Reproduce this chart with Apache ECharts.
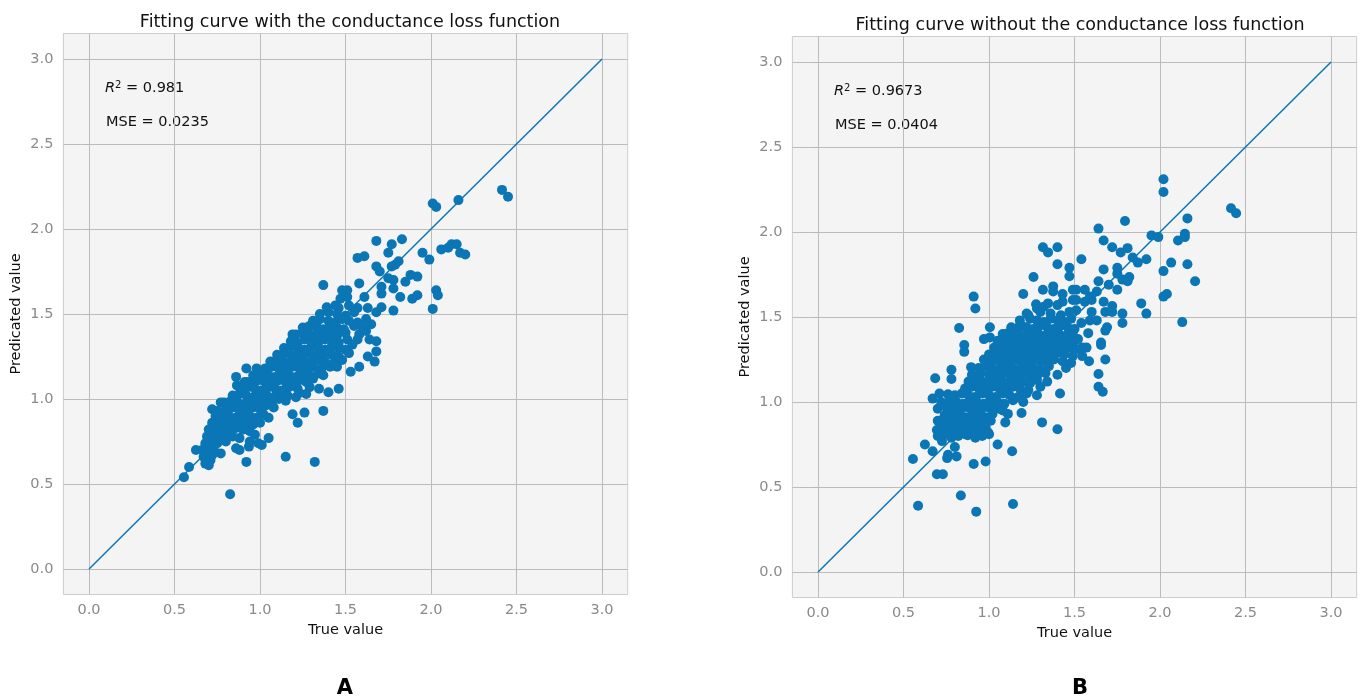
<!DOCTYPE html>
<html>
<head>
<meta charset="utf-8">
<script src="https://cdn.jsdelivr.net/npm/echarts@6/dist/echarts.min.js"></script>
<style>
  html, body { margin: 0; padding: 0; background: #fff; }
  #main { width: 1360px; height: 697px; }
</style>
</head>
<body>
<div id="main"></div>
<script>
// tick values shared by both panels
var tickValues = [0, 0.5, 1, 1.5, 2, 2.5, 3];
var diagonal = [[0, 0], [3, 3]];

// panel A: with the conductance loss  [true value, predicted value]
var pointsA = [
  [0.555,0.54],[0.585,0.60],[0.625,0.70],[0.68,0.68],[0.69,0.62],[0.70,0.61],[0.77,0.68],[0.825,0.44],
  [0.88,0.70],[0.92,0.63],[0.935,0.72],[1.01,0.73],[1.05,0.77],[1.05,0.89],[1.15,0.66],[1.19,0.91],
  [1.22,0.86],[1.26,0.92],[1.32,0.63],[1.37,0.93],[1.23,1.035],[1.345,1.06],[1.40,1.04],[1.46,1.06],
  [1.45,1.19],[1.37,1.14],[0.72,0.94],[0.75,0.93],[0.77,0.98],[0.92,1.18],[0.98,1.18],[0.86,1.13],
  [0.865,1.08],[0.91,1.10],[0.96,1.10],[1.53,1.16],[1.58,1.19],[1.63,1.25],[1.67,1.22],[1.68,1.28],
  [1.51,1.35],[1.57,1.35],[1.64,1.35],[1.68,1.34],[1.19,1.38],[1.33,1.45],[1.37,1.67],[1.48,1.64],
  [1.47,1.59],[1.46,1.535],[1.51,1.60],[1.51,1.64],[1.57,1.535],[1.63,1.535],[1.68,1.51],[1.71,1.54],
  [1.78,1.52],[1.61,1.60],[2.01,1.53],[1.68,1.78],[1.70,1.75],[1.77,1.78],[1.81,1.81],[1.79,1.79],
  [1.75,1.71],[1.78,1.70],[1.88,1.73],[1.92,1.72],[1.85,1.69],[1.58,1.68],[1.71,1.66],[1.78,1.65],
  [1.71,1.62],[1.82,1.60],[1.89,1.59],[1.92,1.61],[2.03,1.64],[2.04,1.61],[1.68,1.93],[1.77,1.91],
  [1.83,1.94],[1.75,1.86],[1.57,1.83],[1.61,1.84],[1.95,1.86],[1.99,1.82],[2.06,1.88],[2.10,1.89],
  [2.12,1.91],[2.15,1.91],[2.17,1.86],[2.20,1.85],[2.01,2.15],[2.03,2.13],[2.16,2.17],[2.415,2.23],
  [2.45,2.19],
  [0.68,0.62],[0.71,0.64],[0.67,0.66],[0.72,0.67],[0.66,0.70],[0.69,0.71],[0.73,0.70],[0.86,0.71],
  [0.68,0.74],[0.71,0.75],[0.75,0.74],[0.80,0.75],[0.94,0.75],[0.99,0.74],
  [0.69,0.78],[0.72,0.79],[0.76,0.78],[0.80,0.79],[0.84,0.78],[0.88,0.77],[0.97,0.79],
  [0.70,0.82],[0.74,0.83],[0.78,0.82],[0.82,0.81],[0.86,0.83],[0.90,0.82],[0.94,0.81],
  [0.72,0.86],[0.76,0.87],[0.80,0.86],[0.84,0.85],[0.88,0.87],[0.92,0.86],[0.96,0.85],[1.00,0.86],
  [0.74,0.90],[0.78,0.91],[0.82,0.90],[0.86,0.89],[0.90,0.91],[0.94,0.90],[0.98,0.89],[1.02,0.91],
  [0.80,0.94],[0.84,0.95],[0.88,0.93],[0.92,0.94],[0.96,0.95],[1.00,0.94],[1.03,0.96],[1.08,0.95],
  [0.79,0.98],[0.83,0.99],[0.87,0.98],[0.91,0.97],[0.95,0.99],[0.99,0.98],[1.03,0.99],[1.07,0.98],[1.11,1.00],[1.15,0.99],
  [0.84,1.02],[0.88,1.03],[0.92,1.02],[0.96,1.01],[1.00,1.03],[1.04,1.02],[1.08,1.01],[1.12,1.03],[1.16,1.02],[1.21,1.01],[1.27,1.03],
  [0.89,1.06],[0.93,1.07],[0.97,1.06],[1.01,1.05],[1.05,1.07],[1.09,1.06],[1.13,1.05],[1.17,1.07],[1.22,1.06],[1.29,1.07],
  [0.93,1.10],[0.99,1.11],[1.03,1.10],[1.07,1.09],[1.11,1.11],[1.15,1.10],[1.19,1.09],[1.23,1.11],[1.27,1.10],[1.31,1.12],
  [0.96,1.14],[1.01,1.15],[1.05,1.14],[1.09,1.13],[1.13,1.15],[1.17,1.14],[1.21,1.13],[1.25,1.15],[1.29,1.14],[1.34,1.15],
  [1.03,1.18],[1.07,1.19],[1.11,1.18],[1.15,1.17],[1.19,1.19],[1.23,1.18],[1.27,1.17],[1.31,1.19],[1.36,1.18],[1.41,1.19],
  [1.06,1.22],[1.10,1.23],[1.14,1.22],[1.18,1.21],[1.22,1.23],[1.26,1.22],[1.30,1.21],[1.34,1.23],[1.38,1.22],[1.43,1.21],[1.48,1.23],
  [1.10,1.26],[1.14,1.27],[1.18,1.26],[1.22,1.25],[1.26,1.27],[1.30,1.26],[1.34,1.25],[1.38,1.27],[1.42,1.26],[1.46,1.25],[1.52,1.27],
  [1.14,1.30],[1.18,1.31],[1.22,1.30],[1.26,1.29],[1.30,1.31],[1.34,1.30],[1.38,1.29],[1.42,1.31],[1.46,1.30],[1.50,1.29],
  [1.18,1.34],[1.22,1.33],[1.26,1.35],[1.30,1.34],[1.34,1.33],[1.38,1.35],[1.42,1.34],[1.46,1.33],[1.54,1.32],
  [1.21,1.38],[1.25,1.39],[1.29,1.38],[1.33,1.37],[1.37,1.39],[1.41,1.38],[1.45,1.37],[1.50,1.39],[1.58,1.38],[1.62,1.40],
  [1.25,1.42],[1.29,1.43],[1.33,1.42],[1.37,1.41],[1.41,1.43],[1.45,1.42],[1.49,1.41],[1.55,1.43],[1.60,1.42],[1.65,1.44],
  [1.31,1.46],[1.35,1.47],[1.40,1.46],[1.44,1.45],[1.48,1.47],[1.52,1.46],[1.57,1.45],[1.62,1.47],
  [1.35,1.50],[1.40,1.51],[1.45,1.50],[1.50,1.49],[1.55,1.51],
  [1.39,1.54],[1.44,1.55],[1.52,1.55]
];

// panel B: without the conductance loss  [true value, predicted value]
var pointsB = [
  [0.555,0.665],[0.585,0.39],[0.625,0.75],[0.67,0.71],[0.695,0.575],[0.73,0.575],[0.755,0.67],[0.81,0.68],
  [0.835,0.45],[0.925,0.355],[0.91,0.635],[0.98,0.65],[1.14,0.40],[1.135,0.71],[1.05,0.75],[0.995,0.82],
  [1.31,0.88],[1.40,0.84],[1.415,1.05],[1.19,0.935],[1.11,0.93],[1.095,0.88],[1.06,0.96],
  [0.695,0.835],[0.725,0.77],[0.755,0.815],[0.80,0.735],[0.76,0.69],[0.875,0.805],[0.87,0.855],[0.70,0.89],[0.92,0.895],
  [0.855,1.335],[0.855,1.295],[0.78,1.19],[0.685,1.14],[0.78,1.135],[0.895,1.205],[0.97,1.25],[0.67,1.02],[0.71,1.05],[0.76,1.045],
  [0.825,1.435],[1.005,1.44],[1.005,1.38],[0.97,1.37],[1.11,1.405],[1.175,1.435],[1.19,1.45],
  [0.91,1.62],[0.92,1.55],
  [1.315,1.91],[1.345,1.88],[1.40,1.91],[1.40,1.81],[1.47,1.79],[1.47,1.74],[1.26,1.735],[1.20,1.635],
  [1.315,1.66],[1.375,1.68],[1.375,1.65],[1.43,1.635],[1.49,1.66],[1.345,1.58],[1.275,1.575],[1.28,1.55],
  [1.43,1.59],[1.49,1.60],[1.23,1.51],
  [2.02,2.31],[2.02,2.235],[2.415,2.14],[2.445,2.11],[2.16,2.08],[1.795,2.065],[1.64,2.02],[2.145,1.99],
  [2.145,1.97],[2.105,1.95],[1.95,1.98],[1.99,1.97],[1.67,1.95],[1.72,1.91],[1.81,1.905],[1.77,1.88],
  [1.54,1.84],[1.84,1.85],[1.87,1.82],[1.92,1.84],[2.065,1.82],[2.16,1.81],[2.02,1.77],[2.205,1.71],
  [1.67,1.78],[1.75,1.79],[1.75,1.755],[1.82,1.735],[1.78,1.72],[1.64,1.71],[1.81,1.71],[1.70,1.69],
  [1.75,1.66],[1.56,1.66],[1.51,1.66],[1.63,1.65],[1.59,1.62],[1.51,1.60],[1.56,1.59],[1.60,1.60],
  [1.67,1.59],[1.72,1.565],[1.89,1.58],[2.02,1.62],[2.04,1.635],[1.51,1.54],[1.60,1.53],[1.68,1.53],
  [1.72,1.53],[1.78,1.52],[1.92,1.52],[1.54,1.465],[1.59,1.48],[1.63,1.48],[1.69,1.44],[1.68,1.42],
  [1.78,1.465],[2.13,1.47],[1.58,1.405],[1.52,1.37],[1.655,1.35],
  [1.545,1.32],[1.57,1.32],[1.655,1.335],[1.545,1.27],[1.585,1.24],[1.68,1.25],[1.64,1.165],[1.64,1.09],[1.665,1.06],
  [0.70,0.80],[0.74,0.81],[0.78,0.79],[0.82,0.80],[0.86,0.81],[0.92,0.79],[0.96,0.80],[1.00,0.81],
  [0.71,0.84],[0.75,0.85],[0.79,0.84],[0.83,0.83],[0.87,0.85],[0.91,0.84],[0.95,0.83],[0.98,0.85],
  [0.72,0.88],[0.76,0.89],[0.80,0.88],[0.84,0.87],[0.88,0.89],[0.92,0.88],[0.96,0.87],[1.01,0.89],
  [0.74,0.92],[0.78,0.93],[0.82,0.92],[0.86,0.91],[0.90,0.93],[0.94,0.92],[0.98,0.91],[1.02,0.93],
  [0.70,0.96],[0.75,0.97],[0.79,0.96],[0.83,0.95],[0.87,0.97],[0.91,0.96],[0.95,0.95],[0.99,0.97],[1.03,0.96],[1.08,0.95],
  [0.72,1.00],[0.77,1.01],[0.81,1.00],[0.85,0.99],[0.89,1.01],[0.93,1.00],[0.97,0.99],[1.01,1.01],[1.05,1.00],[1.09,0.99],[1.14,1.01],[1.20,1.00],
  [0.80,1.04],[0.84,1.05],[0.88,1.04],[0.92,1.03],[0.96,1.05],[1.00,1.04],[1.04,1.03],[1.08,1.05],[1.12,1.04],[1.17,1.03],[1.22,1.05],[1.28,1.04],
  [0.86,1.08],[0.90,1.09],[0.94,1.08],[0.98,1.07],[1.02,1.09],[1.06,1.08],[1.10,1.07],[1.14,1.09],[1.18,1.08],[1.23,1.07],[1.30,1.09],
  [0.88,1.12],[0.92,1.13],[0.96,1.12],[1.00,1.11],[1.04,1.13],[1.08,1.12],[1.12,1.11],[1.16,1.13],[1.20,1.12],[1.24,1.11],[1.28,1.13],[1.34,1.12],
  [0.90,1.16],[0.95,1.17],[1.00,1.16],[1.04,1.15],[1.08,1.17],[1.12,1.16],[1.16,1.15],[1.20,1.17],[1.24,1.16],[1.28,1.15],[1.33,1.17],[1.40,1.16],
  [0.94,1.20],[0.98,1.21],[1.02,1.20],[1.06,1.19],[1.10,1.21],[1.14,1.20],[1.18,1.19],[1.22,1.21],[1.26,1.20],[1.30,1.19],[1.35,1.21],[1.45,1.20],
  [0.98,1.24],[1.02,1.25],[1.06,1.24],[1.10,1.23],[1.14,1.25],[1.18,1.24],[1.22,1.23],[1.26,1.25],[1.30,1.24],[1.34,1.23],[1.38,1.25],[1.43,1.24],[1.48,1.23],
  [1.00,1.28],[1.04,1.29],[1.08,1.28],[1.12,1.27],[1.16,1.29],[1.20,1.28],[1.24,1.27],[1.28,1.29],[1.32,1.28],[1.36,1.27],[1.40,1.29],[1.44,1.28],[1.49,1.27],
  [1.03,1.32],[1.07,1.33],[1.11,1.32],[1.15,1.31],[1.19,1.33],[1.23,1.32],[1.27,1.31],[1.31,1.33],[1.35,1.32],[1.39,1.31],[1.43,1.33],[1.47,1.32],[1.51,1.31],
  [1.05,1.36],[1.10,1.37],[1.14,1.36],[1.18,1.35],[1.22,1.37],[1.26,1.36],[1.30,1.35],[1.34,1.37],[1.38,1.36],[1.42,1.35],[1.46,1.37],[1.50,1.36],
  [1.08,1.40],[1.13,1.41],[1.17,1.40],[1.21,1.39],[1.25,1.41],[1.29,1.40],[1.33,1.39],[1.37,1.41],[1.41,1.40],[1.45,1.39],[1.49,1.41],
  [1.13,1.44],[1.18,1.45],[1.22,1.44],[1.26,1.43],[1.30,1.45],[1.34,1.44],[1.38,1.43],[1.42,1.45],[1.46,1.44],[1.50,1.43],
  [1.18,1.48],[1.24,1.49],[1.28,1.48],[1.32,1.47],[1.36,1.49],[1.40,1.48],[1.44,1.47],[1.48,1.49],
  [1.22,1.52],[1.30,1.53],[1.36,1.52],[1.42,1.51],[1.47,1.53],
  [1.32,1.56],[1.40,1.57]
];

var titles = ['Fitting curve with the conductance loss function', 'Fitting curve without the conductance loss function'];
var r2Text = ['0.981', '0.9673'];
var mseText = ['0.0235', '0.0404'];
var panelTags = ['A', 'B'];

var blue = '#0a76b6';
var font = 'DejaVu Sans, sans-serif';

function makeAxis(name, gap, isY) {
  return {
    type: 'value',
    min: -0.15,
    max: 3.15,
    name: name,
    nameLocation: 'middle',
    nameGap: gap,
    nameTextStyle: { color: '#111', fontSize: 14.5, fontFamily: font },
    axisLine: { show: false },
    axisTick: { show: true, length: 4, customValues: tickValues, lineStyle: { color: '#b5b5b5' } },
    axisLabel: {
      customValues: tickValues,
      margin: isY ? 10 : 8,
      color: '#8a8a8a',
      fontSize: 14.5,
      fontFamily: font,
      formatter: function (v) { return v.toFixed(1); }
    },
    splitLine: { show: true, lineStyle: { color: '#bcbcbc', width: 1 } }
  };
}

var chart = echarts.init(document.getElementById('main'), null, { renderer: 'canvas' });

var option = {
  animation: false,
  backgroundColor: '#ffffff',
  title: [
    { text: titles[0], left: 345, top: 8, textAlign: 'center', textStyle: { fontSize: 17.5, fontWeight: 'normal', color: '#111', fontFamily: font } },
    { text: titles[1], left: 1075, top: 11, textAlign: 'center', textStyle: { fontSize: 17.5, fontWeight: 'normal', color: '#111', fontFamily: font } },
    { text: panelTags[0], left: 340, top: 673, textAlign: 'center', textStyle: { fontSize: 21, fontWeight: 'bold', color: '#000', fontFamily: font } },
    { text: panelTags[1], left: 1075, top: 673, textAlign: 'center', textStyle: { fontSize: 21, fontWeight: 'bold', color: '#000', fontFamily: font } }
  ],
  grid: [
    { left: 63.4, top: 33.5, width: 564.3, height: 561, show: true, backgroundColor: '#f4f4f4', borderColor: '#cdcdcd', borderWidth: 1 },
    { left: 792.4, top: 36.5, width: 564.3, height: 561, show: true, backgroundColor: '#f4f4f4', borderColor: '#cdcdcd', borderWidth: 1 }
  ],
  xAxis: [
    Object.assign(makeAxis('True value', 28, false), { gridIndex: 0 }),
    Object.assign(makeAxis('True value', 28, false), { gridIndex: 1 })
  ],
  yAxis: [
    Object.assign(makeAxis('Predicated value', 40, true), { gridIndex: 0 }),
    Object.assign(makeAxis('Predicated value', 40, true), { gridIndex: 1 })
  ],
  graphic: [0, 1].map(function (i) {
    var x0 = i === 0 ? 105 : 834;
    var y0 = i === 0 ? 88 : 91;
    return {
      type: 'group',
      children: [
        {
          type: 'text', x: x0, y: y0,
          style: {
            text: '{r|R}{s|2} = ' + r2Text[i],
            fill: '#111', fontSize: 14.5, fontFamily: font, verticalAlign: 'middle',
            rich: {
              r: { fontStyle: 'italic', fontSize: 14.5, fontFamily: font, fill: '#111' },
              s: { fontSize: 10, fontFamily: font, verticalAlign: 'top', fill: '#111' }
            }
          }
        },
        {
          type: 'text', x: x0 + 1, y: y0 + 34,
          style: { text: 'MSE = ' + mseText[i], fill: '#111', fontSize: 14.5, fontFamily: font, verticalAlign: 'middle' }
        }
      ]
    };
  }),
  series: [
    { type: 'scatter', xAxisIndex: 0, yAxisIndex: 0, data: pointsA, symbolSize: 10, itemStyle: { color: blue, opacity: 1 }, z: 2 },
    { type: 'line', xAxisIndex: 0, yAxisIndex: 0, data: diagonal, showSymbol: false, lineStyle: { color: blue, width: 1.5 }, z: 3 },
    { type: 'scatter', xAxisIndex: 1, yAxisIndex: 1, data: pointsB, symbolSize: 10, itemStyle: { color: blue, opacity: 1 }, z: 2 },
    { type: 'line', xAxisIndex: 1, yAxisIndex: 1, data: diagonal, showSymbol: false, lineStyle: { color: blue, width: 1.5 }, z: 3 }
  ]
};

chart.setOption(option);
</script>
</body>
</html>
